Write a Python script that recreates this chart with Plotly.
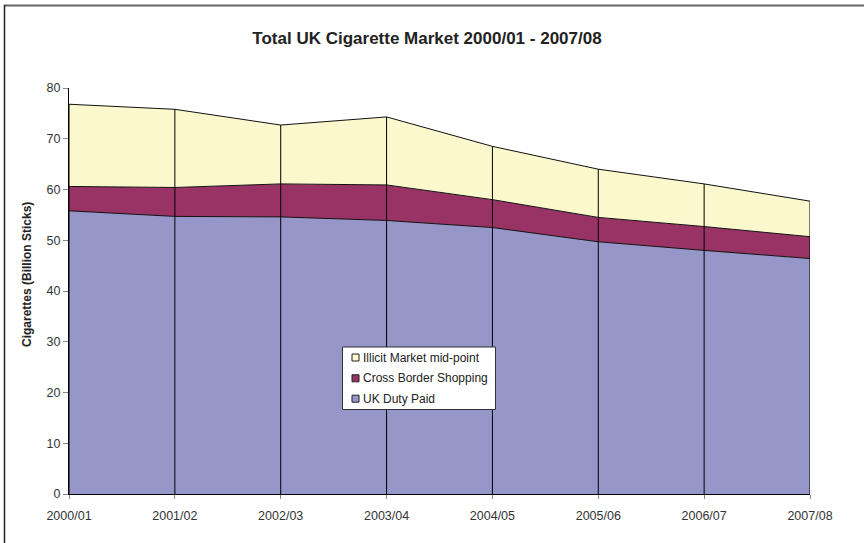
import plotly.graph_objects as go

years = ["2000/01", "2001/02", "2002/03", "2003/04", "2004/05", "2005/06", "2006/07", "2007/08"]
uk_duty_paid = [55.8, 54.7, 54.6, 53.9, 52.5, 49.7, 48.0, 46.4]
cross_border = [4.8, 5.7, 6.5, 7.0, 5.5, 4.8, 4.7, 4.3]
illicit_mid = [16.2, 15.4, 11.6, 13.4, 10.5, 9.5, 8.4, 7.0]

names = ["UK Duty Paid", "Cross Border Shopping", "Illicit Market mid-point"]
colors = ["#9696C8", "#993366", "#FBF8CD"]
series = [uk_duty_paid, cross_border, illicit_mid]

W, H = 864, 543
L, R, T, B = 69, 810, 88, 494

fig = go.Figure()
for nm, col, vals in zip(names, colors, series):
    fig.add_trace(go.Scatter(
        x=years, y=vals, name=nm, stackgroup="one", mode="lines",
        line=dict(color="#111111", width=1), fillcolor=col, showlegend=False,
    ))

# drop lines from total down to axis
totals = [a + b + c for a, b, c in zip(uk_duty_paid, cross_border, illicit_mid)]
dx, dy = [], []
for yr, tot in zip(years, totals):
    dx += [yr, yr, None]
    dy += [0, tot, None]
fig.add_trace(go.Scatter(x=dx, y=dy, mode="lines", line=dict(color="black", width=1),
                         showlegend=False, hoverinfo="skip"))

pw = R - L
ph = B - T
def px_x(p):
    return (p - L) / pw
def px_y(p):
    return (B - p) / ph

shapes = [
    dict(type="line", xref="paper", yref="paper", x0=px_x(4), x1=px_x(870),
         y0=px_y(5.5), y1=px_y(5.5), line=dict(color="#666666", width=2)),
    dict(type="line", xref="paper", yref="paper", x0=px_x(4.5), x1=px_x(4.5),
         y0=px_y(5), y1=px_y(550), line=dict(color="#222222", width=1.5)),
    # legend box
    dict(type="rect", xref="paper", yref="paper", x0=px_x(342.5), x1=px_x(495.5),
         y0=px_y(347), y1=px_y(409.5), fillcolor="white",
         line=dict(color="#333333", width=1)),
]
annotations = [dict(text="<b>Cigarettes (Billion Sticks)</b>", textangle=-90,
                    x=px_x(27), y=px_y(275), xref="paper", yref="paper",
                    xanchor="center", yanchor="middle", showarrow=False,
                    font=dict(size=12, color="#222222"))]

# legend entries (top to bottom)
row_centers = [357.5, 378.3, 398.7]
for nm, col, yc in zip(names[::-1], colors[::-1], row_centers):
    shapes.append(dict(type="rect", xref="paper", yref="paper",
                       x0=px_x(352), x1=px_x(359), y0=px_y(yc - 3.5), y1=px_y(yc + 3.5),
                       fillcolor=col, line=dict(color="#222222", width=1)))
    annotations.append(dict(text=nm, x=px_x(360.5), y=px_y(yc), xref="paper", yref="paper",
                            xanchor="left", yanchor="middle", showarrow=False,
                            font=dict(size=12, color="#222222")))

fig.update_layout(
    width=W, height=H,
    margin=dict(l=L, r=W - R, t=T, b=H - B),
    paper_bgcolor="white", plot_bgcolor="white",
    font=dict(family="Liberation Sans, Arial, sans-serif", size=12, color="#333333"),
    title=dict(text="<b>Total UK Cigarette Market 2000/01 - 2007/08</b>",
               x=427 / W, xanchor="center", xref="container",
               y=1 - 38 / H, yanchor="middle",
               font=dict(size=17, color="#222222")),
    showlegend=False,
    xaxis=dict(type="category", range=[0, 7], showgrid=False, zeroline=False,
               showline=True, linecolor="black", linewidth=1,
               ticks="outside", ticklen=4, tickcolor="#888888",
               tickfont=dict(size=12.5, color="#333333"), ticklabelstandoff=6),
    yaxis=dict(range=[0, 80], dtick=10, showgrid=False, zeroline=False,
               showline=True, linecolor="black", linewidth=1,
               ticks="outside", ticklen=5, tickcolor="#888888",
               tickfont=dict(size=12.5, color="#333333")),
    annotations=annotations,
    shapes=shapes,
)

fig.write_html("out.html")
